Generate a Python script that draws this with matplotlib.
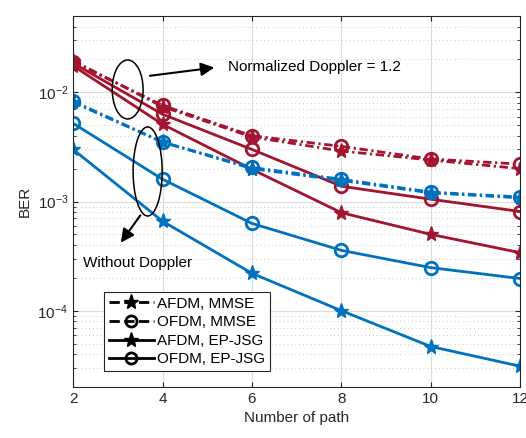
import matplotlib.pyplot as plt
from matplotlib.patches import Ellipse
from matplotlib.lines import Line2D

plt.rcParams['font.family'] = ['Liberation Sans', 'DejaVu Sans']

paths = [2, 4, 6, 8, 10, 12]

# doppler = 1.2
afdm_mmse_dop = [1.95e-2, 7.4e-3, 3.9e-3, 2.9e-3, 2.4e-3, 2.0e-3]
ofdm_mmse_dop = [1.9e-2, 7.6e-3, 4.0e-3, 3.2e-3, 2.45e-3, 2.2e-3]
afdm_ep_dop = [1.75e-2, 5.1e-3, 1.97e-3, 7.9e-4, 5.0e-4, 3.4e-4]
ofdm_ep_dop = [1.85e-2, 6.3e-3, 3.0e-3, 1.38e-3, 1.05e-3, 8.1e-4]

# no doppler
afdm_mmse = [8.1e-3, 3.5e-3, 2.0e-3, 1.56e-3, 1.2e-3, 1.08e-3]
ofdm_mmse = [8.3e-3, 3.5e-3, 2.05e-3, 1.6e-3, 1.22e-3, 1.1e-3]
afdm_ep = [3.0e-3, 6.6e-4, 2.2e-4, 1.0e-4, 4.7e-5, 3.1e-5]
ofdm_ep = [5.2e-3, 1.6e-3, 6.3e-4, 3.57e-4, 2.48e-4, 1.97e-4]

blue = '#0072BD'
red = '#A2142F'

fig = plt.figure(figsize=(5.26, 4.38), dpi=100)
ax = fig.add_axes([0.139, 0.1164, 0.85, 0.847])

lw = 2.0
ms = 9
dashdot = (0, (3, 1.3, 0.8, 1.3))
ax.plot(paths, afdm_mmse_dop, ls=dashdot, color=red, lw=lw, marker='*', ms=ms + 2)
ax.plot(paths, ofdm_mmse_dop, ls=dashdot, color=red, lw=lw, marker='o', ms=ms, mfc='none', mew=lw)
ax.plot(paths, afdm_ep_dop, '-', color=red, lw=lw, marker='*', ms=ms + 2)
ax.plot(paths, ofdm_ep_dop, '-', color=red, lw=lw, marker='o', ms=ms, mfc='none', mew=lw)
ax.plot(paths, afdm_mmse, ls=dashdot, color=blue, lw=lw, marker='*', ms=ms + 2)
ax.plot(paths, ofdm_mmse, ls=dashdot, color=blue, lw=lw, marker='o', ms=ms, mfc='none', mew=lw)
ax.plot(paths, afdm_ep, '-', color=blue, lw=lw, marker='*', ms=ms + 2)
ax.plot(paths, ofdm_ep, '-', color=blue, lw=lw, marker='o', ms=ms, mfc='none', mew=lw)

ax.set_yscale('log')
ax.set_xlim(2, 12)
ax.set_ylim(2e-5, 5e-2)
ax.set_xticks(paths)
ax.tick_params(which='both', direction='in', top=True, right=True, labelsize=11, colors='#262626')
ax.tick_params(axis='x', which='minor', bottom=False, top=False)
ax.grid(True, which='major', color='#dcdcdc', lw=0.8)
ax.grid(True, which='minor', axis='y', color='#c8c8c8', lw=0.7, ls=(0, (1, 3)))
for s in ax.spines.values():
    s.set_color('#262626')
ax.set_xlabel('Number of path', fontsize=11, color='#262626')
ax.set_ylabel('BER', fontsize=11, color='#262626')

# circles + arrows
ax.add_patch(Ellipse((0.122, 0.802), 0.069, 0.159, transform=ax.transAxes,
                     fill=False, ec='black', lw=1.1, zorder=5))
ax.add_patch(Ellipse((0.1667, 0.581), 0.065, 0.240, transform=ax.transAxes,
                     fill=False, ec='black', lw=1.1, zorder=5))
ax.annotate('', xy=(0.322, 0.862), xytext=(0.1655, 0.838), xycoords='axes fraction',
            arrowprops=dict(arrowstyle='-|>', color='black', lw=1.5, mutation_scale=20))
ax.annotate('', xy=(0.103, 0.383), xytext=(0.154, 0.469), xycoords='axes fraction',
            arrowprops=dict(arrowstyle='-|>', color='black', lw=1.5, mutation_scale=20))
ax.text(0.347, 0.862, 'Normalized Doppler = 1.2', transform=ax.transAxes,
        fontsize=11, va='center')
ax.text(0.022, 0.334, 'Without Doppler', transform=ax.transAxes,
        fontsize=11, va='center')

handles = [
    Line2D([], [], color='k', ls='--', lw=lw, marker='*', ms=ms + 2),
    Line2D([], [], color='k', ls='--', lw=lw, marker='o', ms=ms - 1, mfc='none', mew=lw),
    Line2D([], [], color='k', ls='-', lw=lw, marker='*', ms=ms + 2),
    Line2D([], [], color='k', ls='-', lw=lw, marker='o', ms=ms - 1, mfc='none', mew=lw),
]
labels = ['AFDM, MMSE', 'OFDM, MMSE', 'AFDM, EP-JSG', 'OFDM, EP-JSG']
leg = ax.legend(handles, labels, loc='lower left', bbox_to_anchor=(0.069, 0.043),
                borderaxespad=0, fontsize=11, fancybox=False, framealpha=1,
                edgecolor='#262626', handlelength=3.0, handletextpad=0.2,
                labelspacing=0.3, borderpad=0.3)
leg.get_frame().set_linewidth(0.8)

fig.savefig('out.png', dpi=100)
